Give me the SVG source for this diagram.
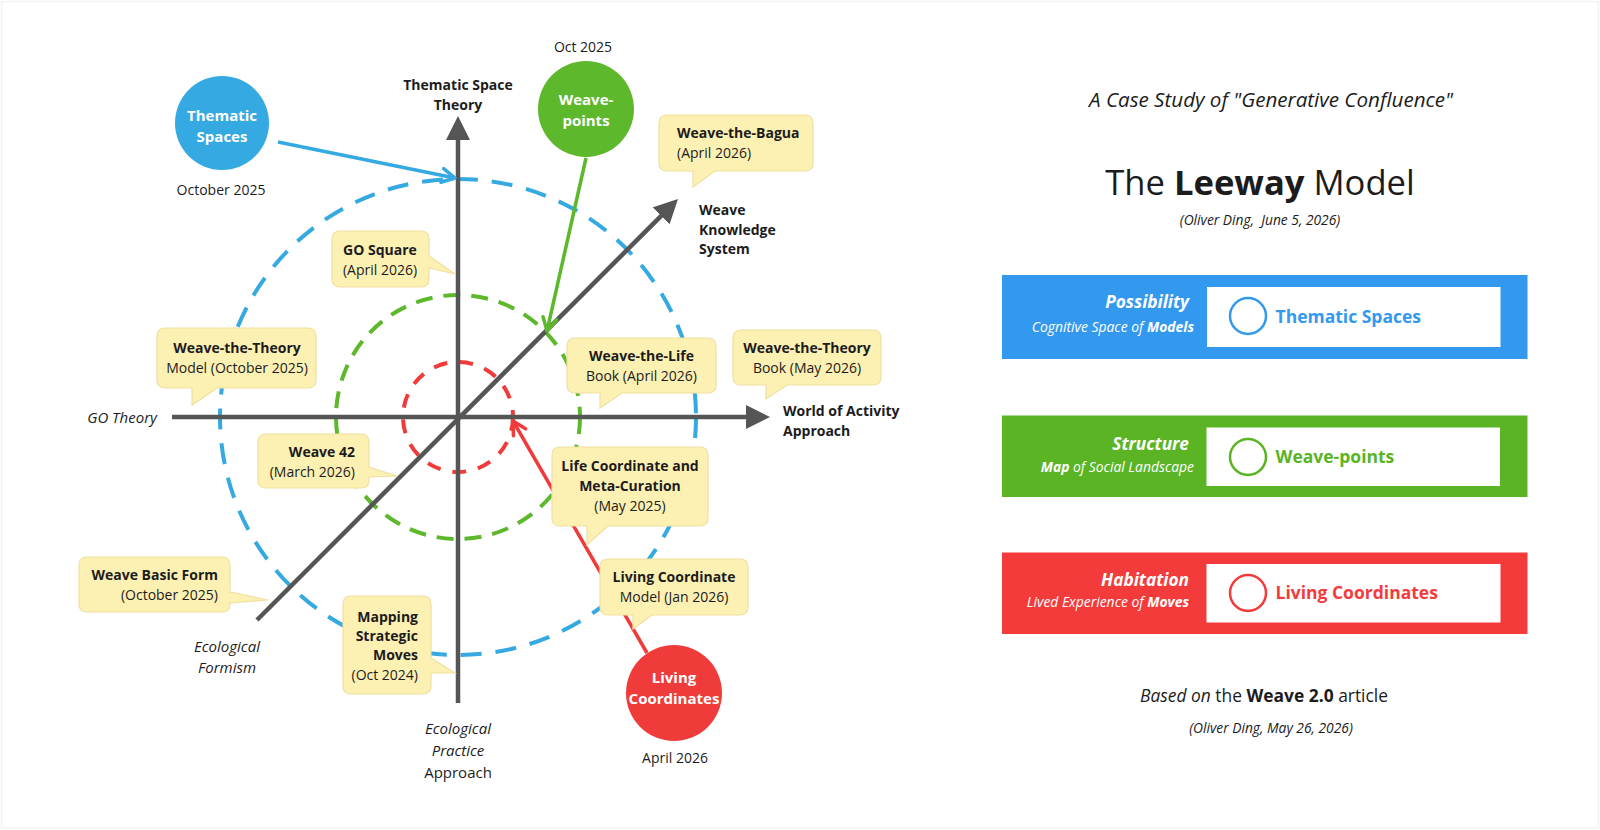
<svg xmlns="http://www.w3.org/2000/svg" width="1600" height="830" viewBox="0 0 1600 830">
<style>
text{font-family:"Open Sans","Noto Sans","DejaVu Sans",sans-serif;fill:#1c1c1c}
.t14{font-size:14px}
.b{font-weight:700}
.i{font-style:italic}
.mid{text-anchor:middle}
.end{text-anchor:end}
.call{fill:#FCF0B3;stroke:#EFE0A0;stroke-width:1.2}
.axis{stroke:#555;stroke-width:4.5;fill:none}
.ring{fill:none;stroke-width:4}
.wt{fill:#fff;font-weight:700;font-size:15px;text-anchor:middle}
.lbl{font-size:14px;text-anchor:middle}
.boxt{fill:#fff}
</style>
<defs>
<marker id="ah" markerUnits="userSpaceOnUse" viewBox="0 0 24 24" markerWidth="24" markerHeight="24" refX="8" refY="12" orient="auto"><path d="M0,0 L24,12 L0,24 Z" fill="#555"/></marker>
<marker id="ob" markerUnits="userSpaceOnUse" viewBox="0 0 20 20" markerWidth="20" markerHeight="20" refX="16" refY="10" orient="auto"><path d="M3,3 L16,10 L3,17" fill="none" stroke="#35A9E1" stroke-width="3.5" stroke-linecap="round" stroke-linejoin="round"/></marker>
<marker id="og" markerUnits="userSpaceOnUse" viewBox="0 0 20 20" markerWidth="20" markerHeight="20" refX="16" refY="10" orient="auto"><path d="M3,3 L16,10 L3,17" fill="none" stroke="#5DB82B" stroke-width="3.5" stroke-linecap="round" stroke-linejoin="round"/></marker>
<marker id="or" markerUnits="userSpaceOnUse" viewBox="0 0 20 20" markerWidth="20" markerHeight="20" refX="16" refY="10" orient="auto"><path d="M3,3 L16,10 L3,17" fill="none" stroke="#F03B3B" stroke-width="3.5" stroke-linecap="round" stroke-linejoin="round"/></marker>
</defs>
<rect x="0" y="0" width="1600" height="830" fill="#fff"/>
<rect x="1.5" y="1.5" width="1597" height="826.5" fill="none" stroke="#f2f2f2" stroke-width="1.5"/>

<g id="rings">
<circle class="ring" cx="458" cy="417" r="238" stroke="#35A9E1" stroke-dasharray="21 14"/>
<circle class="ring" cx="458" cy="417" r="122" stroke="#5DB82B" stroke-dasharray="17 11"/>
<circle class="ring" cx="458" cy="417" r="55" stroke="#F03B3B" stroke-dasharray="14 12"/>
</g>

<g id="connectors">
<line class="axis" x1="458" y1="703" x2="458" y2="132" marker-end="url(#ah)"/>
<line class="axis" x1="172" y1="417" x2="754" y2="417" marker-end="url(#ah)"/>
<line class="axis" x1="257" y1="620" x2="666.7" y2="210.3" stroke-width="4" marker-end="url(#ah)"/>
<line x1="278" y1="142" x2="455" y2="178" stroke="#35A9E1" stroke-width="3.5" marker-end="url(#ob)"/>
<line x1="586" y1="158" x2="547" y2="331" stroke="#5DB82B" stroke-width="3.5" marker-end="url(#og)"/>
<line x1="647" y1="653" x2="513" y2="421" stroke="#F03B3B" stroke-width="3.5" marker-end="url(#or)"/>
</g>

<g id="axis-labels">
<text class="t14 b mid" x="458" y="90">Thematic Space</text>
<text class="t14 b mid" x="458" y="110">Theory</text>
<text class="i end" x="157" y="423" font-size="15">GO Theory</text>
<text class="t14 b" x="783" y="416">World of Activity</text>
<text class="t14 b" x="783" y="436">Approach</text>
<text class="t14 b" x="699" y="215">Weave</text>
<text class="t14 b" x="699" y="235">Knowledge</text>
<text class="t14 b" x="699" y="254">System</text>
<text class="i mid" x="227" y="652" font-size="15">Ecological</text>
<text class="i mid" x="227" y="673" font-size="15">Formism</text>
<text class="i mid" x="458" y="734" font-size="15">Ecological</text>
<text class="i mid" x="458" y="756" font-size="15">Practice</text>
<text class="mid" x="458" y="778" font-size="15">Approach</text>
</g>

<g id="thematic-spaces">
<circle cx="222" cy="123" r="47" fill="#35A9E1"/>
<text class="wt" x="222" y="121">Thematic</text>
<text class="wt" x="222" y="142">Spaces</text>
<text class="lbl" x="221" y="195">October 2025</text>
</g>

<g id="weave-points">
<circle cx="586" cy="109" r="48" fill="#5DB82B"/>
<text class="wt" x="586" y="105">Weave-</text>
<text class="wt" x="586" y="126">points</text>
<text class="lbl" x="583" y="52">Oct 2025</text>
</g>

<g id="living-coordinates">
<circle cx="674" cy="693" r="48" fill="#F03B3B"/>
<text class="wt" x="674" y="683">Living</text>
<text class="wt" x="674" y="704">Coordinates</text>
<text class="lbl" x="675" y="763">April 2026</text>
</g>

<g id="go-square">
<path class="call" d="M340,231 H421 Q429,231 429,239 V256 L455,274 L429,268 V279 Q429,287 421,287 H340 Q332,287 332,279 V239 Q332,231 340,231 Z"/>
<text class="t14 b mid" x="380" y="255">GO Square</text>
<text class="t14 mid" x="380" y="275">(April 2026)</text>
</g>

<g id="weave-the-bagua">
<path class="call" d="M667,115 H805 Q813,115 813,123 V163 Q813,171 805,171 H715 L693,187 L693,171 H667 Q659,171 659,163 V123 Q659,115 667,115 Z"/>
<text class="t14 b" x="677" y="138">Weave-the-Bagua</text>
<text class="t14" x="677" y="158">(April 2026)</text>
</g>

<g id="weave-the-theory-model">
<path class="call" d="M165,328 H308 Q316,328 316,336 V380 Q316,388 308,388 H217 L192,405 L192,388 H165 Q157,388 157,380 V336 Q157,328 165,328 Z"/>
<text class="t14 b mid" x="237" y="353">Weave-the-Theory</text>
<text class="t14 mid" x="237" y="373">Model (October 2025)</text>
</g>

<g id="weave-42">
<path class="call" d="M266,434 H361 Q369,434 369,442 V467 L397,476 L369,477 V480 Q369,488 361,488 H266 Q258,488 258,480 V442 Q258,434 266,434 Z"/>
<text class="t14 b end" x="355" y="457">Weave 42</text>
<text class="t14 end" x="355" y="477">(March 2026)</text>
</g>

<g id="weave-the-life">
<path class="call" d="M575,338 H708 Q716,338 716,346 V385 Q716,393 708,393 H622 L600,408 L600,393 H575 Q567,393 567,385 V346 Q567,338 575,338 Z"/>
<text class="t14 b mid" x="641.5" y="361">Weave-the-Life</text>
<text class="t14 mid" x="641.5" y="381">Book (April 2026)</text>
</g>

<g id="weave-the-theory-book">
<path class="call" d="M741,330 H873 Q881,330 881,338 V377 Q881,385 873,385 H787 L766,399 L766,385 H741 Q733,385 733,377 V338 Q733,330 741,330 Z"/>
<text class="t14 b mid" x="807" y="353">Weave-the-Theory</text>
<text class="t14 mid" x="807" y="373">Book (May 2026)</text>
</g>

<g id="life-coordinate-meta-curation">
<path class="call" d="M560,447 H700 Q708,447 708,455 V518 Q708,526 700,526 H608 L587,545 L587,526 H560 Q552,526 552,518 V455 Q552,447 560,447 Z"/>
<text class="t14 b mid" x="630" y="471">Life Coordinate and</text>
<text class="t14 b mid" x="630" y="491">Meta-Curation</text>
<text class="t14 mid" x="630" y="511">(May 2025)</text>
</g>

<g id="living-coordinate-model">
<path class="call" d="M608,559 H740 Q748,559 748,567 V607 Q748,615 740,615 H652 L633,629 L633,615 H608 Q600,615 600,607 V567 Q600,559 608,559 Z"/>
<text class="t14 b mid" x="674" y="582">Living Coordinate</text>
<text class="t14 mid" x="674" y="602">Model (Jan 2026)</text>
</g>

<g id="weave-basic-form">
<path class="call" d="M87,557 H222 Q230,557 230,565 V592 L268,600 L230,603 V604 Q230,612 222,612 H87 Q79,612 79,604 V565 Q79,557 87,557 Z"/>
<text class="t14 b end" x="218" y="580">Weave Basic Form</text>
<text class="t14 end" x="218" y="600">(October 2025)</text>
</g>

<g id="mapping-strategic-moves">
<path class="call" d="M351,596 H423 Q431,596 431,604 V658 L455,673 L431,673 V686 Q431,694 423,694 H351 Q343,694 343,686 V604 Q343,596 351,596 Z"/>
<text class="t14 b end" x="418" y="622">Mapping</text>
<text class="t14 b end" x="418" y="641">Strategic</text>
<text class="t14 b end" x="418" y="660">Moves</text>
<text class="t14 end" x="418" y="680">(Oct 2024)</text>
</g>

<g id="title">
<text class="i mid" x="1271" y="107" font-size="20.6">A Case Study of "Generative Confluence"</text>
<text class="mid" x="1260" y="195" font-size="34.6">The <tspan class="b">Leeway</tspan> Model</text>
<text class="i mid" x="1260" y="225" font-size="13.8" style="white-space:pre">(Oliver Ding,  June 5, 2026)</text>
</g>

<g id="possibility">
<rect x="1002" y="275" width="525.5" height="84" fill="#3399EE"/>
<rect x="1207" y="287" width="293.5" height="60" fill="#fff"/>
<circle cx="1248" cy="316" r="18" fill="none" stroke="#3399EE" stroke-width="2.5"/>
<text class="b" x="1275.5" y="323" font-size="17.5" style="fill:#3399EE">Thematic Spaces</text>
<text class="boxt b i end" x="1189" y="308" font-size="17.3">Possibility</text>
<text class="boxt i end" x="1194" y="332" font-size="13.9">Cognitive Space of <tspan class="b">Models</tspan></text>
</g>

<g id="structure">
<rect x="1002" y="415.5" width="525.5" height="81.5" fill="#5AB424"/>
<rect x="1206.5" y="427.5" width="293.5" height="58.5" fill="#fff"/>
<circle cx="1248" cy="457" r="18" fill="none" stroke="#5AB424" stroke-width="2.5"/>
<text class="b" x="1275.5" y="463" font-size="17.5" style="fill:#5AB424">Weave-points</text>
<text class="boxt b i end" x="1189" y="450" font-size="17.3">Structure</text>
<text class="boxt i end" x="1194" y="472" font-size="13.9"><tspan class="b">Map</tspan> of Social Landscape</text>
</g>

<g id="habitation">
<rect x="1002" y="552.5" width="525.5" height="81.5" fill="#F43B3B"/>
<rect x="1206.5" y="564" width="294" height="58.5" fill="#fff"/>
<circle cx="1248" cy="593" r="18" fill="none" stroke="#F43B3B" stroke-width="2.5"/>
<text class="b" x="1275.5" y="599" font-size="17.5" style="fill:#F43B3B">Living Coordinates</text>
<text class="boxt b i end" x="1189" y="586" font-size="17.3">Habitation</text>
<text class="boxt i end" x="1189" y="607" font-size="13.9">Lived Experience of <tspan class="b">Moves</tspan></text>
</g>

<g id="source">
<text class="mid" x="1264" y="702" font-size="17.4"><tspan class="i">Based on</tspan> the <tspan class="b">Weave 2.0</tspan> article</text>
<text class="i mid" x="1271" y="733" font-size="13.8">(Oliver Ding, May 26, 2026)</text>
</g>
</svg>
